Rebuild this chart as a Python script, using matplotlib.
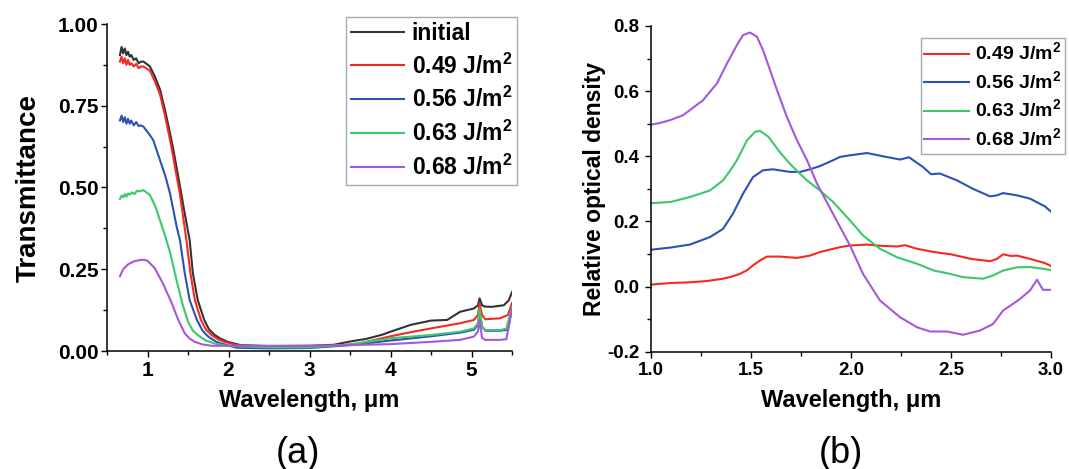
import matplotlib
matplotlib.use("Agg")
import matplotlib.pyplot as plt
from matplotlib.ticker import MultipleLocator

plt.rcParams['font.family'] = ['Liberation Sans', 'DejaVu Sans']
plt.rcParams['font.weight'] = 'bold'
plt.rcParams['mathtext.fontset'] = 'custom'
plt.rcParams['mathtext.rm'] = 'Liberation Sans:bold'
plt.rcParams['mathtext.bf'] = 'Liberation Sans:bold'

# ---- panel (a): transmittance ----
xa_init = [0.66, 0.68, 0.70, 0.72, 0.74, 0.76, 0.78, 0.80, 0.83, 0.86, 0.89, 0.92, 0.95, 1.00,
           1.03, 1.09, 1.154, 1.216, 1.278, 1.32, 1.40, 1.46, 1.52, 1.56, 1.62, 1.70, 1.76, 1.83,
           1.90, 1.99, 2.15, 2.50, 3.00, 3.30, 3.50, 3.70, 3.90, 4.00, 4.25, 4.50, 4.70, 4.86,
           5.03, 5.08, 5.10, 5.13, 5.16, 5.25, 5.40, 5.46, 5.50]
ya_init = [0.905, 0.93, 0.91, 0.925, 0.905, 0.915, 0.90, 0.905, 0.89, 0.895, 0.88, 0.885, 0.885, 0.876,
           0.87, 0.84, 0.80, 0.737, 0.666, 0.615, 0.505, 0.42, 0.34, 0.238, 0.156, 0.095, 0.066, 0.049,
           0.038, 0.028, 0.018, 0.015, 0.016, 0.019, 0.029, 0.037, 0.05, 0.059, 0.08, 0.093, 0.095,
           0.12, 0.13, 0.14, 0.161, 0.14, 0.136, 0.135, 0.14, 0.155, 0.18]

xa_049 = [0.66, 0.68, 0.70, 0.72, 0.74, 0.76, 0.78, 0.80, 0.83, 0.86, 0.89, 0.92, 0.95, 1.03,
          1.09, 1.154, 1.216, 1.278, 1.32, 1.40, 1.48, 1.53, 1.585, 1.66, 1.72, 1.79, 1.87, 1.95,
          2.1, 2.3, 2.8, 3.3, 3.6, 4.0, 4.3, 4.5, 4.86, 5.03, 5.08, 5.10, 5.13, 5.17, 5.35, 5.45, 5.50]
ya_049 = [0.885, 0.90, 0.88, 0.895, 0.875, 0.89, 0.875, 0.88, 0.87, 0.878, 0.865, 0.87, 0.87, 0.857,
          0.825, 0.785, 0.72, 0.645, 0.59, 0.48, 0.34, 0.238, 0.156, 0.095, 0.066, 0.049, 0.036,
          0.028, 0.018, 0.014, 0.013, 0.016, 0.022, 0.045, 0.06, 0.069, 0.085, 0.095, 0.11, 0.146,
          0.11, 0.097, 0.10, 0.11, 0.147]

xa_056 = [0.66, 0.68, 0.70, 0.72, 0.74, 0.76, 0.78, 0.80, 0.83, 0.86, 0.89, 0.92, 0.95, 1.03,
          1.07, 1.154, 1.22, 1.278, 1.36, 1.40, 1.46, 1.52, 1.61, 1.68, 1.75, 1.85, 1.95, 2.1, 2.5,
          3.0, 3.5, 4.0, 4.5, 4.86, 5.03, 5.08, 5.10, 5.13, 5.17, 5.35, 5.45, 5.50]
ya_056 = [0.705, 0.72, 0.70, 0.715, 0.695, 0.71, 0.695, 0.705, 0.69, 0.70, 0.688, 0.69, 0.686, 0.66,
          0.645, 0.584, 0.535, 0.482, 0.38, 0.34, 0.238, 0.156, 0.095, 0.062, 0.044, 0.028, 0.02,
          0.01, 0.008, 0.009, 0.018, 0.032, 0.045, 0.056, 0.065, 0.08, 0.12, 0.075, 0.062, 0.062,
          0.065, 0.13]

xa_063 = [0.66, 0.68, 0.70, 0.72, 0.74, 0.76, 0.78, 0.81, 0.84, 0.87, 0.90, 0.95, 1.03, 1.10,
          1.154, 1.22, 1.28, 1.36, 1.43, 1.50, 1.56, 1.63, 1.72, 1.83, 2.0, 2.5, 3.0, 3.5, 4.0,
          4.5, 4.86, 5.03, 5.08, 5.10, 5.13, 5.17, 5.35, 5.43, 5.50]
ya_063 = [0.465, 0.475, 0.47, 0.48, 0.472, 0.482, 0.478, 0.485, 0.48, 0.49, 0.488, 0.492, 0.477, 0.44,
          0.40, 0.35, 0.30, 0.215, 0.145, 0.09, 0.062, 0.047, 0.032, 0.023, 0.015, 0.011, 0.011,
          0.02, 0.039, 0.049, 0.059, 0.069, 0.085, 0.13, 0.075, 0.064, 0.064, 0.068, 0.135]

xa_068 = [0.66, 0.70, 0.76, 0.83, 0.90, 0.95, 1.00, 1.09, 1.19, 1.30, 1.38, 1.46, 1.52, 1.585,
          1.68, 1.79, 2.0, 2.5, 3.0, 3.5, 4.0, 4.5, 4.86, 5.03, 5.08, 5.10, 5.13, 5.17, 5.35, 5.43, 5.50]
ya_068 = [0.229, 0.25, 0.265, 0.274, 0.278, 0.279, 0.276, 0.253, 0.207, 0.146, 0.095, 0.054, 0.038,
          0.028, 0.02, 0.016, 0.016, 0.016, 0.016, 0.018, 0.021, 0.028, 0.034, 0.044, 0.06, 0.095,
          0.04, 0.034, 0.034, 0.036, 0.13]

# ---- panel (b): relative optical density ----
xb_049 = [1.0, 1.1, 1.195, 1.28, 1.36, 1.40, 1.445, 1.48, 1.51, 1.545, 1.58, 1.645, 1.73, 1.795,
          1.845, 1.945, 1.995, 2.08, 2.15, 2.23, 2.27, 2.33, 2.415, 2.5, 2.6, 2.695, 2.73, 2.76,
          2.8, 2.83, 2.895, 2.97, 3.0]
yb_049 = [0.006, 0.011, 0.013, 0.017, 0.024, 0.03, 0.039, 0.05, 0.065, 0.08, 0.092, 0.092, 0.088,
          0.095, 0.106, 0.121, 0.126, 0.129, 0.125, 0.123, 0.127, 0.116, 0.106, 0.099, 0.085, 0.078,
          0.085, 0.099, 0.094, 0.095, 0.085, 0.072, 0.063]

xb_056 = [1.0, 1.1, 1.195, 1.295, 1.36, 1.41, 1.46, 1.51, 1.56, 1.61, 1.695, 1.745, 1.795, 1.845,
          1.90, 1.945, 1.995, 2.08, 2.16, 2.245, 2.29, 2.36, 2.40, 2.445, 2.53, 2.61, 2.695, 2.73,
          2.76, 2.83, 2.895, 2.97, 3.0]
yb_056 = [0.113, 0.12, 0.129, 0.152, 0.177, 0.224, 0.285, 0.336, 0.357, 0.36, 0.352, 0.352, 0.36,
          0.37, 0.385, 0.398, 0.403, 0.41, 0.40, 0.39, 0.397, 0.367, 0.345, 0.347, 0.326, 0.30, 0.277,
          0.28, 0.287, 0.28, 0.27, 0.246, 0.23]

xb_063 = [1.0, 1.1, 1.195, 1.295, 1.36, 1.40, 1.43, 1.48, 1.52, 1.545, 1.587, 1.645, 1.69, 1.735,
          1.78, 1.845, 1.91, 1.995, 2.06, 2.145, 2.23, 2.33, 2.415, 2.48, 2.56, 2.66, 2.71, 2.76,
          2.83, 2.895, 2.97, 3.0]
yb_063 = [0.256, 0.26, 0.275, 0.295, 0.326, 0.36, 0.388, 0.449, 0.475, 0.478, 0.46, 0.412, 0.38,
          0.352, 0.326, 0.295, 0.26, 0.203, 0.157, 0.116, 0.09, 0.07, 0.049, 0.041, 0.029, 0.024,
          0.034, 0.049, 0.059, 0.06, 0.054, 0.05]

xb_068 = [1.0, 1.05, 1.1, 1.16, 1.195, 1.26, 1.33, 1.38, 1.43, 1.46, 1.495, 1.53, 1.56, 1.595,
          1.63, 1.68, 1.73, 1.78, 1.83, 1.90, 1.995, 2.06, 2.145, 2.245, 2.33, 2.395, 2.48, 2.56,
          2.645, 2.71, 2.76, 2.81, 2.845, 2.895, 2.93, 2.96, 3.0]
yb_068 = [0.497, 0.503, 0.512, 0.526, 0.542, 0.572, 0.624, 0.685, 0.742, 0.772, 0.78, 0.767, 0.726,
          0.665, 0.603, 0.52, 0.449, 0.388, 0.316, 0.235, 0.126, 0.039, -0.043, -0.094, -0.125,
          -0.138, -0.138, -0.148, -0.135, -0.115, -0.074, -0.053, -0.038, -0.012, 0.021, -0.01, -0.01]

c_init = '#333333'
c_049 = '#f52a1e'
c_056 = '#2c52b4'
c_063 = '#3cc86a'
c_068 = '#a458dc'

lab_049 = r'0.49 J/m$^{2}$'
lab_056 = r'0.56 J/m$^{2}$'
lab_063 = r'0.63 J/m$^{2}$'
lab_068 = r'0.68 J/m$^{2}$'

fig = plt.figure(figsize=(10.69, 4.69), dpi=100)
W, H = 1069.0, 469.0

ax1 = fig.add_axes([107 / W, 1 - 351 / H, 405 / W, 327 / H])
ax2 = fig.add_axes([651 / W, 1 - 351.7 / H, 400 / W, 325.7 / H])

lw = 1.5
ax1.plot(xa_init, ya_init, color=c_init, lw=lw, label='initial')
ax1.plot(xa_049, ya_049, color=c_049, lw=lw, label=lab_049)
ax1.plot(xa_056, ya_056, color=c_056, lw=lw, label=lab_056)
ax1.plot(xa_063, ya_063, color=c_063, lw=lw, label=lab_063)
ax1.plot(xa_068, ya_068, color=c_068, lw=lw, label=lab_068)

ax2.plot(xb_049, yb_049, color=c_049, lw=lw, label=lab_049)
ax2.plot(xb_056, yb_056, color=c_056, lw=lw, label=lab_056)
ax2.plot(xb_063, yb_063, color=c_063, lw=lw, label=lab_063)
ax2.plot(xb_068, yb_068, color=c_068, lw=lw, label=lab_068)

for ax in (ax1, ax2):
    ax.spines['top'].set_visible(False)
    ax.spines['right'].set_visible(False)
    ax.spines['left'].set_linewidth(1.1)
    ax.spines['bottom'].set_linewidth(1.1)
    ax.tick_params(which='major', direction='out', length=4.3, width=1.0)
    ax.tick_params(which='minor', direction='out', length=2.6, width=1.0)

ax1.set_xlim(0.5, 5.5)
ax1.set_ylim(0, 1.0)
ax1.xaxis.set_major_locator(MultipleLocator(1))
ax1.xaxis.set_minor_locator(MultipleLocator(0.5))
ax1.yaxis.set_major_locator(MultipleLocator(0.25))
ax1.yaxis.set_minor_locator(MultipleLocator(0.125))
ax1.yaxis.set_major_formatter(plt.FormatStrFormatter('%.2f'))
ax1.tick_params(axis='both', which='major', labelsize=15)
ax1.tick_params(axis='y', pad=1.8)
ax1.tick_params(axis='x', pad=3)
ax1.set_ylabel('Transmittance', fontsize=20, fontweight='bold')
ax1.yaxis.set_label_coords((42 - 107) / 405, 0.5)
ax1.set_xlabel('Wavelength, μm', fontsize=17, fontweight='bold')
ax1.xaxis.set_label_coords(0.5, (351 - 389) / 327)

ax2.set_xlim(1.0, 3.0)
ax2.set_ylim(-0.2, 0.8)
ax2.xaxis.set_major_locator(MultipleLocator(0.5))
ax2.xaxis.set_minor_locator(MultipleLocator(0.25))
ax2.yaxis.set_major_locator(MultipleLocator(0.2))
ax2.yaxis.set_minor_locator(MultipleLocator(0.1))
ax2.xaxis.set_major_formatter(plt.FormatStrFormatter('%.1f'))
ax2.yaxis.set_major_formatter(plt.FormatStrFormatter('%.1f'))
ax2.tick_params(axis='both', which='major', labelsize=13.5)
ax2.tick_params(axis='y', pad=4.3)
ax2.tick_params(axis='x', pad=3)
ax2.set_ylabel('Relative optical density', fontsize=16.5, fontweight='bold')
ax2.yaxis.set_label_coords((606 - 651) / 400, 0.5)
ax2.set_xlabel('Wavelength, μm', fontsize=17, fontweight='bold')
ax2.xaxis.set_label_coords(0.5, (351.7 - 389) / 325.7)

leg1 = ax1.legend(loc='upper right', bbox_to_anchor=(517 / W, 1 - 17 / H),
                  bbox_transform=fig.transFigure, fontsize=16.5, frameon=True, fancybox=False,
                  borderaxespad=0, borderpad=0.2, handlelength=2.3, handletextpad=0.35,
                  labelspacing=0.38)
leg1.get_frame().set_edgecolor('#8a94a0')
leg1.get_frame().set_linewidth(1.0)

leg2 = ax2.legend(loc='upper right', bbox_to_anchor=(1065 / W, 1 - 38 / H),
                  bbox_transform=fig.transFigure, fontsize=14, frameon=True, fancybox=False,
                  borderaxespad=0, borderpad=0.2, handlelength=2.3, handletextpad=0.3,
                  labelspacing=0.3)
leg2.get_frame().set_edgecolor('#8a94a0')
leg2.get_frame().set_linewidth(1.0)

ax1.text((297.6 - 107) / 405, (351 - 453) / 327, '(a)', transform=ax1.transAxes,
         ha='center', va='center', fontsize=26, fontweight='normal')
ax2.text((841 - 651) / 400, (351.7 - 453) / 325.7, '(b)', transform=ax2.transAxes,
         ha='center', va='center', fontsize=26, fontweight='normal')

fig.savefig('out.png', dpi=100)
